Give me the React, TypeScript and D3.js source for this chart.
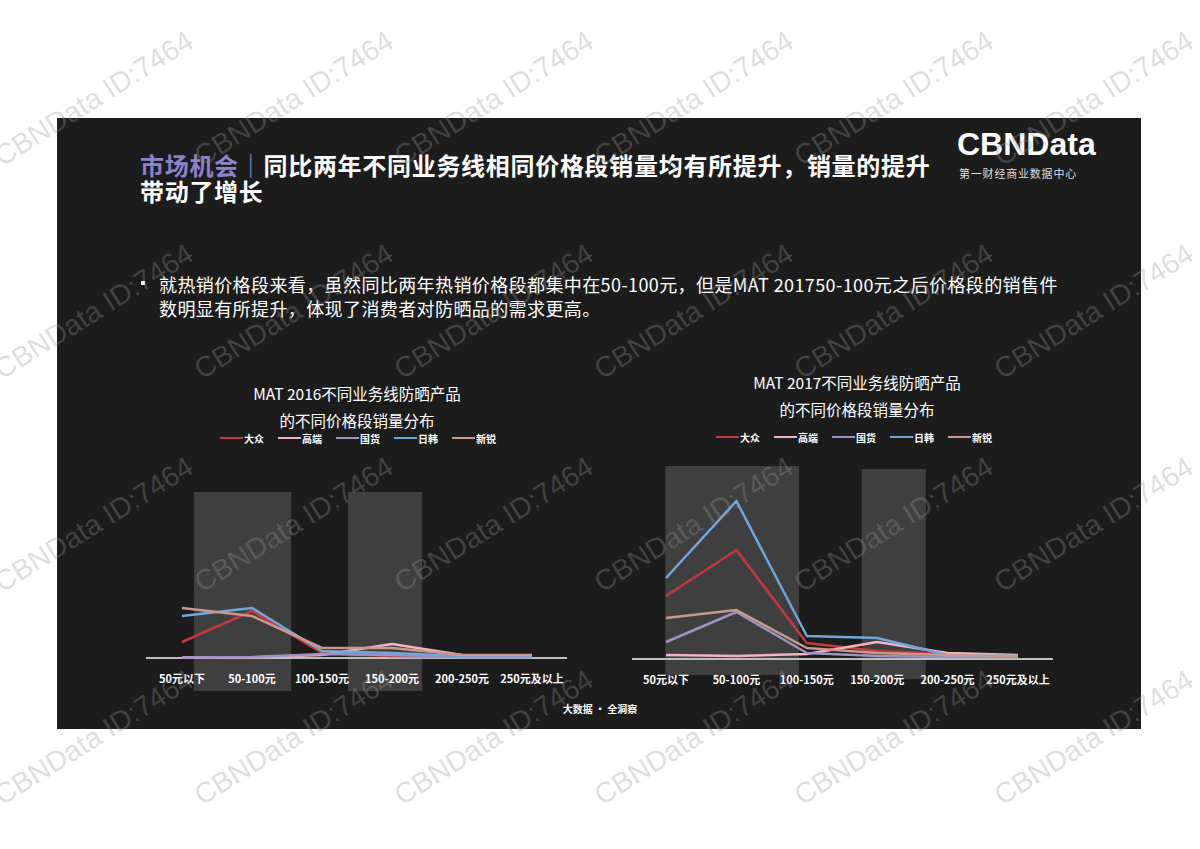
import React from "react";
import * as d3 from "d3";

const categories = ["50元以下", "50-100元", "100-150元", "150-200元", "200-250元", "250元及以上"];
const seriesNames = ["大众", "高端", "国货", "日韩", "新锐"];
const seriesColors = ["#c4383f", "#f2b3c4", "#9d92c6", "#6fa6de", "#c9998a"];

// MAT 2016 (relative sales units)
const v2016_dazhong = [16, 47, 5, 2, 1.5, 1.5];
const v2016_gaoduan = [0.7, 0.7, 3, 14, 3, 2.5];
const v2016_guohuo = [0.5, 1, 4, 3, 1, 1];
const v2016_rihan = [42, 50, 7, 5, 2, 1];
const v2016_xinrui = [50, 42, 10, 10, 3, 3];

// MAT 2017
const v2017_dazhong = [63, 109, 16, 8, 5, 3];
const v2017_gaoduan = [4, 3, 5, 17, 6, 4];
const v2017_guohuo = [17, 47, 6, 3, 2, 2];
const v2017_rihan = [81, 158, 23, 21, 4, 3];
const v2017_xinrui = [41, 49, 11, 6, 4, 3];

// highlight bands [startIndex, endIndex, topValue, bottomValue]
const bands2016 = [[0.17, 1.56, 166, -33], [2.37, 3.43, 166, -33]];
const bands2017 = [[-0.01, 1.89, 193, -16], [2.78, 3.69, 190, -20]];

const chartTitles2016 = ["MAT 2016不同业务线防晒产品", "的不同价格段销量分布"];
const chartTitles2017 = ["MAT 2017不同业务线防晒产品", "的不同价格段销量分布"];

const FONT = "'Noto Sans CJK SC', 'Noto Sans', sans-serif";

type ChartProps = {
  x0: number; x5: number; axisY: number; axisL: number; axisR: number;
  series: number[][]; bands: number[][]; titles: string[]; titleX: number; titleY: number;
  legendX: number; legendY: number;
};

function LineChart(p: ChartProps) {
  const x = d3.scaleLinear().domain([0, 5]).range([p.x0, p.x5]);
  const y = d3.scaleLinear().domain([0, 200]).range([p.axisY, p.axisY - 200]);
  const line = d3.line<number>().x((_, i) => x(i)).y((d) => y(d));
  return (
    <g>
      {p.titles.map((t, i) => (
        <text key={i} x={p.titleX} y={p.titleY + i * 26.5} textAnchor="middle" dominantBaseline="central"
          fill="#ffffff" fontSize={15.5} fontFamily={FONT}>{t}</text>
      ))}
      {seriesNames.map((n, i) => {
        const lx = p.legendX + i * 58;
        return (
          <g key={n}>
            <line x1={lx} x2={lx + 23} y1={p.legendY} y2={p.legendY} stroke={seriesColors[i]} strokeWidth={2} />
            <text x={lx + 24} y={p.legendY} dominantBaseline="central" fill="#ffffff" fontSize={10}
              fontWeight="bold" fontFamily={FONT}>{n}</text>
          </g>
        );
      })}
      {p.bands.map((b, i) => (
        <rect key={i} x={x(b[0])} width={x(b[1]) - x(b[0])} y={y(b[2])} height={y(b[3]) - y(b[2])}
          fill="#444444" opacity={0.9} />
      ))}
      <line x1={p.axisL} x2={p.axisR} y1={y(0)} y2={y(0)} stroke="#bdbdbd" strokeWidth={2} />
      {p.series.map((s, i) => (
        <path key={i} d={line(s) || ""} fill="none" stroke={seriesColors[i]} strokeWidth={2.5}
          strokeLinejoin="round" />
      ))}
      {categories.map((c, i) => (
        <text key={c} x={x(i)} y={p.axisY + 20} textAnchor="middle" dominantBaseline="central"
          fill="#ffffff" fontSize={11} fontWeight="bold" fontFamily={FONT}>{c}</text>
      ))}
    </g>
  );
}

function Watermarks() {
  const items: JSX.Element[] = [];
  const cols = [2, 202, 402, 602, 802, 1002];
  const rows = [167, 380, 593, 806];
  rows.forEach((ry) =>
    cols.forEach((cx) => {
      items.push(
        <text key={cx + "-" + ry} x={cx} y={ry} transform={`rotate(-32 ${cx} ${ry})`}
          fill="rgba(150,150,150,0.33)" fontSize={28.5} fontFamily="'Liberation Sans', Arial, sans-serif">
          CBNData ID:7464
        </text>
      );
    })
  );
  return <g>{items}</g>;
}

export default function App() {
  return (
    <svg width={1200} height={849} style={{ position: "absolute", left: 0, top: 0, background: "#ffffff" }}>
      <rect x={57} y={118} width={1084} height={611} fill="#1c1c1c" />
      <text x={140} y={164} dominantBaseline="central" fontSize={24} fontWeight="bold" fontFamily={FONT}
        letterSpacing={0.7}>
        <tspan fill="#8c84c8">市场机会</tspan>
        <tspan fill="#8c84c8">｜</tspan>
        <tspan fill="#ffffff">同比两年不同业务线相同价格段销量均有所提升，销量的提升</tspan>
      </text>
      <text x={140} y={190} dominantBaseline="central" fontSize={24} fontWeight="bold" fontFamily={FONT}
        letterSpacing={0.7} fill="#ffffff">带动了增长</text>
      <text x={957} y={155} fill="#ffffff" fontSize={32} fontWeight="bold"
        fontFamily="'Liberation Sans', Arial, sans-serif">CBNData</text>
      <text x={959} y={173} dominantBaseline="central" fill="#dddddd" fontSize={11} fontFamily={FONT}
        letterSpacing={0.8}>第一财经商业数据中心</text>
      <rect x={141} y={281} width={4} height={4} fill="#ffffff" />
      <text x={159} y={284} dominantBaseline="central" fill="#ffffff" fontSize={18} fontFamily={FONT}
        letterSpacing={0.4}>
        就热销价格段来看，虽然同比两年热销价格段都集中在50-100元，但是MAT 201750-100元之后价格段的销售件
      </text>
      <text x={159} y={308} dominantBaseline="central" fill="#ffffff" fontSize={18} fontFamily={FONT}
        letterSpacing={0.4}>
        数明显有所提升，体现了消费者对防晒品的需求更高。
      </text>
      <LineChart x0={182} x5={532} axisY={658} axisL={146} axisR={567}
        series={[v2016_dazhong, v2016_gaoduan, v2016_guohuo, v2016_rihan, v2016_xinrui]}
        bands={bands2016} titles={chartTitles2016} titleX={357} titleY={393} legendX={220} legendY={438} />
      <LineChart x0={666} x5={1018} axisY={659} axisL={632} axisR={1053}
        series={[v2017_dazhong, v2017_gaoduan, v2017_guohuo, v2017_rihan, v2017_xinrui]}
        bands={bands2017} titles={chartTitles2017} titleX={857} titleY={382} legendX={716} legendY={437} />
      <text x={600} y={708} textAnchor="middle" dominantBaseline="central" fill="#ffffff" fontSize={10}
        fontWeight="bold" fontFamily={FONT}>大数据 · 全洞察</text>
      <Watermarks />
    </svg>
  );
}
